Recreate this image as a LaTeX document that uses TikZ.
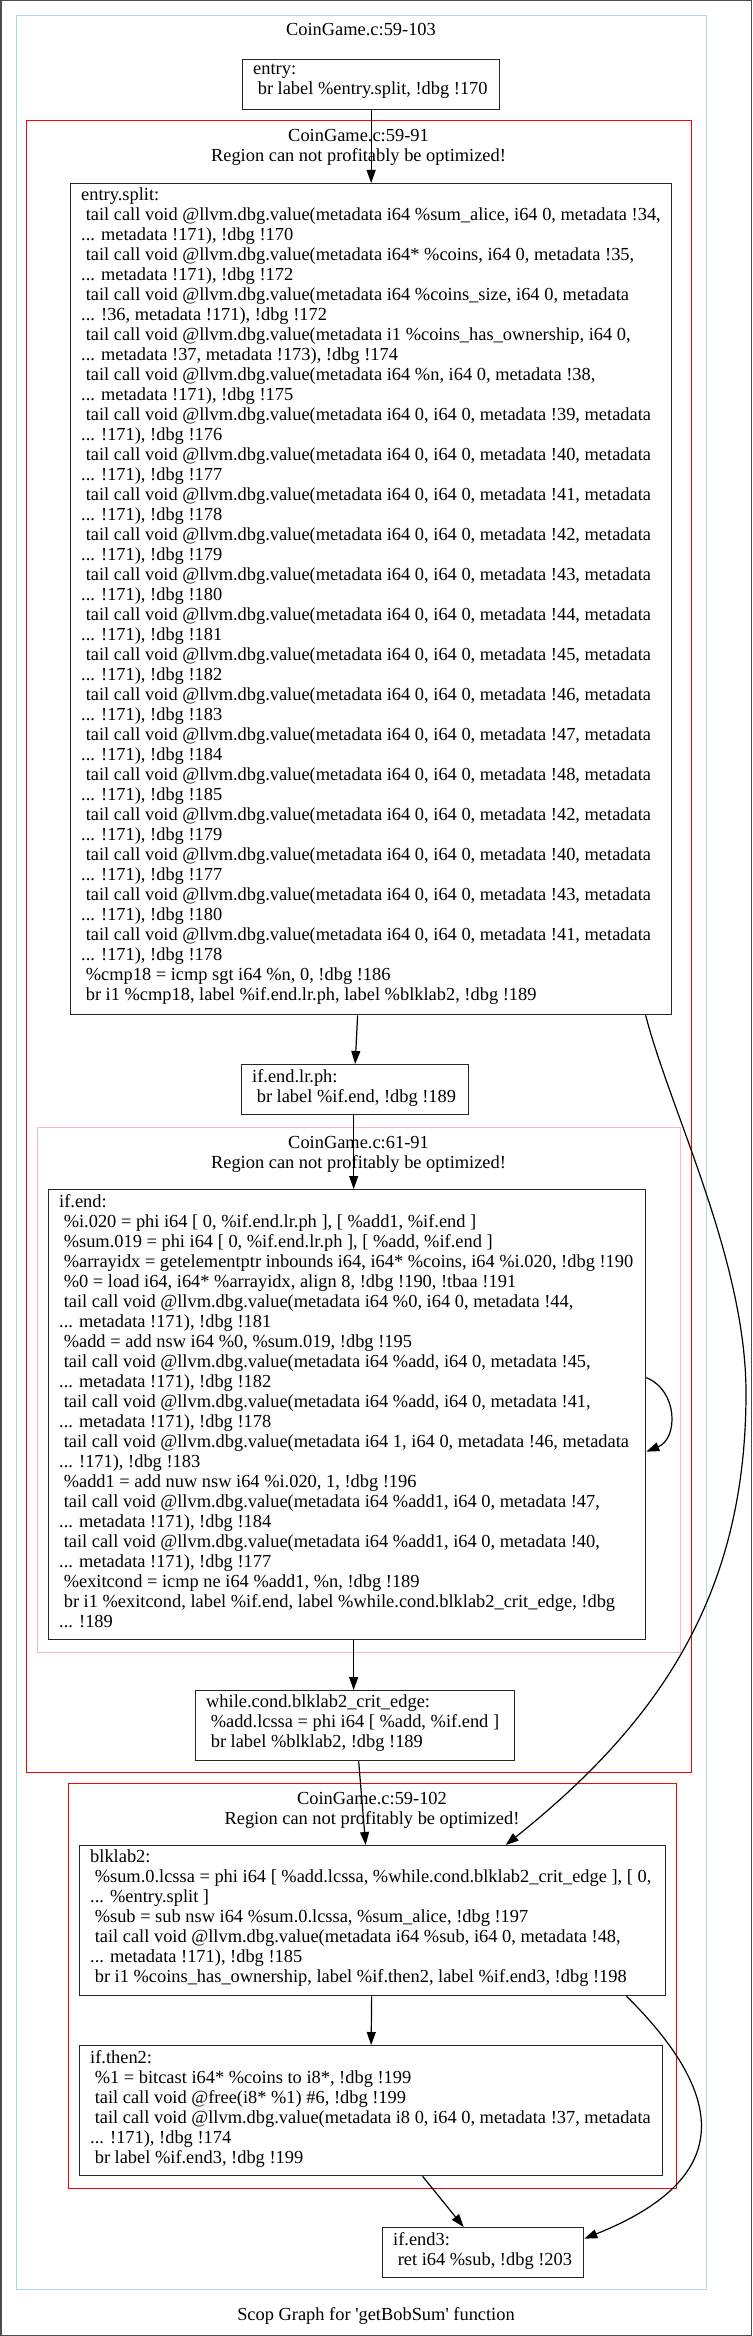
\documentclass[tikz,border=0pt]{standalone}
\usepackage{fontspec}
\setmainfont{Liberation Serif}
\usetikzlibrary{arrows.meta}
\newcommand\gvfont{\fontsize{18.4}{20}\selectfont}
\newcommand\ld{\hspace*{\fontdimen2\font}}
\newcommand\gvs{\rule[-5pt]{0pt}{20pt}}
\newcommand\tcz[2]{\ld tail call void @llvm.dbg.value(metadata i64 0, i64 0, metadata !#1, metadata\\... !171), !dbg !#2}
\definecolor{clblue}{RGB}{173,216,230}
\definecolor{clpink}{RGB}{255,182,193}
\definecolor{clred}{RGB}{255,0,0}
\tikzset{
  box/.style={draw=black!85, line width=1.3pt, anchor=north west, inner sep=0pt},
  txt/.style={anchor=north west, inner sep=0pt, align=left, font=\gvfont, execute at begin node=\gvs, execute at end node=\gvs},
  ttl/.style={anchor=base, inner sep=0pt, font=\gvfont},
  edge/.style={draw=black, line width=1.2pt, -{Triangle[length=13pt,width=9pt]}},
  cluster/.style={line width=1pt}
}
\begin{document}
\begin{tikzpicture}[x=1pt,y=-1pt]
\useasboundingbox (0,0) rectangle (752,2336);
\draw[line width=1.5pt, black!70] (0.75,0.75) rectangle (751.25,2335.25);
% clusters
\draw[cluster, clblue] (16,16) rectangle (706,2289);
\draw[cluster, clred] (26,121) rectangle (691,1772);
\draw[cluster, clpink] (37,1127) rectangle (680,1652);
\draw[cluster, clred] (68,1783) rectangle (676,2188);
% titles
\node[ttl] (t0) at (361,36) {CoinGame.c:59-103};
\node[ttl] (t1a) at (358.5,142) {CoinGame.c:59-91};
\node[ttl] (t1b) at (358.5,162) {Region can not profitably be optimized!};
\node[ttl] (t2a) at (358.5,1148) {CoinGame.c:61-91};
\node[ttl] (t2b) at (358.5,1168) {Region can not profitably be optimized!};
\node[ttl] (t3a) at (372,1804) {CoinGame.c:59-102};
\node[ttl] (t3b) at (372,1824) {Region can not profitably be optimized!};
\node[ttl] (tg) at (376,2320) {Scop Graph for \textquotesingle getBobSum\textquotesingle{} function};
% nodes
\node[box, minimum width=257pt, minimum height=50pt] (entry) at (242,59) {};
\node[txt] (entry-t) at (253,64) {entry:\\\ld br label \%entry.split, !dbg !170};
\node[box, minimum width=601pt, minimum height=831pt] (split) at (70,183) {};
\node[txt] (split-t) at (81,188) {entry.split:\\
\ld tail call void @llvm.dbg.value(metadata i64 \%sum\_alice, i64 0, metadata !34,\\
... metadata !171), !dbg !170\\
\ld tail call void @llvm.dbg.value(metadata i64* \%coins, i64 0, metadata !35,\\
... metadata !171), !dbg !172\\
\ld tail call void @llvm.dbg.value(metadata i64 \%coins\_size, i64 0, metadata\\
... !36, metadata !171), !dbg !172\\
\ld tail call void @llvm.dbg.value(metadata i1 \%coins\_has\_ownership, i64 0,\\
... metadata !37, metadata !173), !dbg !174\\
\ld tail call void @llvm.dbg.value(metadata i64 \%n, i64 0, metadata !38,\\
... metadata !171), !dbg !175\\
\tcz{39}{176}\\
\tcz{40}{177}\\
\tcz{41}{178}\\
\tcz{42}{179}\\
\tcz{43}{180}\\
\tcz{44}{181}\\
\tcz{45}{182}\\
\tcz{46}{183}\\
\tcz{47}{184}\\
\tcz{48}{185}\\
\tcz{42}{179}\\
\tcz{40}{177}\\
\tcz{43}{180}\\
\tcz{41}{178}\\
\ld\%cmp18 = icmp sgt i64 \%n, 0, !dbg !186\\
\ld br i1 \%cmp18, label \%if.end.lr.ph, label \%blklab2, !dbg !189};
\node[box, minimum width=227pt, minimum height=50pt] (lrph) at (241,1064) {};
\node[txt] (lrph-t) at (252,1069) {if.end.lr.ph:\\\ld br label \%if.end, !dbg !189};
\node[box, minimum width=597pt, minimum height=450pt] (ifend) at (48,1189) {};
\node[txt] (ifend-t) at (59,1194) {if.end:\\
\ld\%i.020 = phi i64 [ 0, \%if.end.lr.ph ], [ \%add1, \%if.end ]\\
\ld\%sum.019 = phi i64 [ 0, \%if.end.lr.ph ], [ \%add, \%if.end ]\\
\ld\%arrayidx = getelementptr inbounds i64, i64* \%coins, i64 \%i.020, !dbg !190\\
\ld\%0 = load i64, i64* \%arrayidx, align 8, !dbg !190, !tbaa !191\\
\ld tail call void @llvm.dbg.value(metadata i64 \%0, i64 0, metadata !44,\\
... metadata !171), !dbg !181\\
\ld\%add = add nsw i64 \%0, \%sum.019, !dbg !195\\
\ld tail call void @llvm.dbg.value(metadata i64 \%add, i64 0, metadata !45,\\
... metadata !171), !dbg !182\\
\ld tail call void @llvm.dbg.value(metadata i64 \%add, i64 0, metadata !41,\\
... metadata !171), !dbg !178\\
\ld tail call void @llvm.dbg.value(metadata i64 1, i64 0, metadata !46, metadata\\
... !171), !dbg !183\\
\ld\%add1 = add nuw nsw i64 \%i.020, 1, !dbg !196\\
\ld tail call void @llvm.dbg.value(metadata i64 \%add1, i64 0, metadata !47,\\
... metadata !171), !dbg !184\\
\ld tail call void @llvm.dbg.value(metadata i64 \%add1, i64 0, metadata !40,\\
... metadata !171), !dbg !177\\
\ld\%exitcond = icmp ne i64 \%add1, \%n, !dbg !189\\
\ld br i1 \%exitcond, label \%if.end, label \%while.cond.blklab2\_crit\_edge, !dbg\\
... !189};
\node[box, minimum width=319pt, minimum height=70pt] (wc) at (195,1690) {};
\node[txt] (wc-t) at (206,1695) {while.cond.blklab2\_crit\_edge:\\
\ld\%add.lcssa = phi i64 [ \%add, \%if.end ]\\
\ld br label \%blklab2, !dbg !189};
\node[box, minimum width=586pt, minimum height=150pt] (blk) at (79,1845) {};
\node[txt] (blk-t) at (90,1850) {blklab2:\\
\ld\%sum.0.lcssa = phi i64 [ \%add.lcssa, \%while.cond.blklab2\_crit\_edge ], [ 0,\\
... \%entry.split ]\\
\ld\%sub = sub nsw i64 \%sum.0.lcssa, \%sum\_alice, !dbg !197\\
\ld tail call void @llvm.dbg.value(metadata i64 \%sub, i64 0, metadata !48,\\
... metadata !171), !dbg !185\\
\ld br i1 \%coins\_has\_ownership, label \%if.then2, label \%if.end3, !dbg !198};
\node[box, minimum width=583pt, minimum height=130pt] (then2) at (79,2045) {};
\node[txt] (then2-t) at (90,2050) {if.then2:\\
\ld\%1 = bitcast i64* \%coins to i8*, !dbg !199\\
\ld tail call void @free(i8* \%1) \#6, !dbg !199\\
\ld tail call void @llvm.dbg.value(metadata i8 0, i64 0, metadata !37, metadata\\
... !171), !dbg !174\\
\ld br label \%if.end3, !dbg !199};
\node[box, minimum width=201pt, minimum height=50pt] (end3) at (382,2227) {};
\node[txt] (end3-t) at (393,2232) {if.end3:\\\ld ret i64 \%sub, !dbg !203};
% edges
\draw[edge] (entry.south) -- (entry.south |- split.north);
\draw[edge] ([xshift=-13.5pt]split.south) -- (lrph.north);
\draw[edge] ([xshift=-1.5pt]lrph.south) -- ([xshift=-1.5pt]lrph.south |- ifend.north);
\draw[edge] ([yshift=37pt]ifend.east) .. controls +(32,13) and +(32,-13) .. ([yshift=-37pt]ifend.east);
\draw[edge] ([xshift=6.5pt]ifend.south) -- ([xshift=-1.5pt]wc.north);
\draw[edge] ([xshift=3.5pt]wc.south) -- ([xshift=-7pt]blk.north);
\coordinate (bend1) at (746,1393);
\draw[edge] ([xshift=274.5pt]split.south) .. controls (670,1110) and (746,1260) .. (bend1) .. controls (746,1593) and (661,1721) .. ([xshift=133pt]blk.north);
\draw[edge] ([xshift=-1pt]blk.south) -- (then2.north);
\draw[edge] ([xshift=51.5pt]then2.south) -- ([xshift=-19.5pt]end3.north);
\draw[edge] ([xshift=254pt]blk.south) .. controls (731,2100) and (731,2180) .. ([yshift=14pt]end3.east);
\end{tikzpicture}
\end{document}
